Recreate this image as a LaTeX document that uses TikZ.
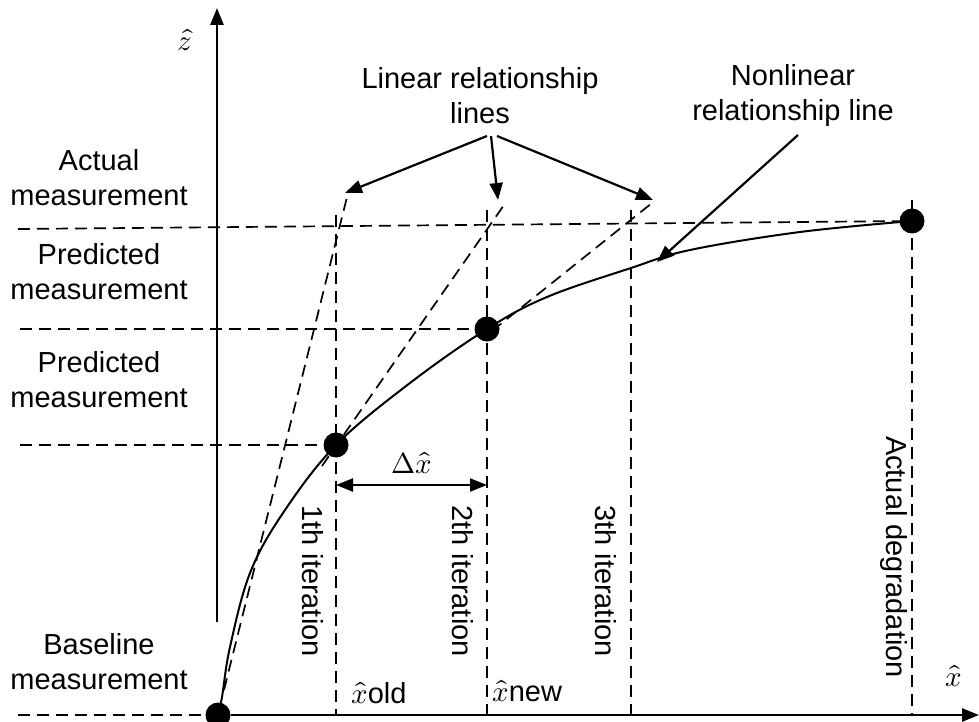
\documentclass[tikz,border=0pt]{standalone}
\usepackage{fontspec}
\usepackage{unicode-math}
\setmainfont{Liberation Sans}
\setmathfont{Latin Modern Math}
\usetikzlibrary{arrows.meta}
\begin{document}
\begin{tikzpicture}[x=1pt,y=-1pt,
  axis/.style={line width=2.6pt},
  tipped/.style={-{Triangle[length=17pt,width=13pt]}},
  guide/.style={line width=1.7pt, dash pattern=on 12pt off 7pt},
  curve/.style={line width=2pt},
  pointer/.style={line width=2.2pt, -{Triangle[length=17pt,width=13pt]}},
  dot/.style={circle, fill=black, inner sep=0pt, minimum size=25pt},
  lbl/.style={font=\fontsize{29}{35}\selectfont, align=center, inner sep=0pt},
]
\useasboundingbox (0,0) rectangle (979,722);

% operating points on the curve
\node[dot] (o)  at (218,715) {};
\node[dot] (p1) at (336,445) {};
\node[dot] (p2) at (487,329) {};
\node[dot] (p3) at (912,221) {};

% axes
\coordinate (yb) at (217,622);
\coordinate (yt) at (217,8);
\coordinate (xe) at (979,715);
\draw[axis, tipped] (yb) -- (yt);
\draw[axis, tipped] (o) -- (xe);
\node[lbl] (zl) at (185,40) {$\hat{z}$};
\node[lbl] (xl) at (954,676) {$\hat{x}$};

% horizontal guides
\coordinate (h0) at (18,715);
\coordinate (h1) at (20,445);
\coordinate (h2) at (20,329);
\coordinate (h3) at (18,229);
\draw[guide] (h0) -- (o);
\draw[guide] (h1) -- (p1);
\draw[guide] (h2) -- (p2);
\draw[guide] (h3) -- (p3.center);

% vertical guides
\coordinate (v1t) at (336,215); \coordinate (v1b) at (336,715);
\coordinate (v2t) at (487,210); \coordinate (v2b) at (487,715);
\coordinate (v3t) at (631,210); \coordinate (v3b) at (631,715);
\coordinate (v4t) at (912,200); \coordinate (v4b) at (912,715);
\draw[guide] (v1t) -- (v1b);
\draw[guide] (v2t) -- (v2b);
\draw[guide] (v3t) -- (v3b);
\draw[guide] (v4t) -- (v4b);

% linearised relationships
\coordinate (l1a) at (224,690); \coordinate (l1b) at (347,197);
\coordinate (l2a) at (322,466); \coordinate (l2b) at (504,205);
\coordinate (l3a) at (492,331); \coordinate (l3b) at (652,203);
\draw[guide] (l1a) -- (l1b);
\draw[guide] (l2a) -- (l2b);
\draw[guide] (l3a) -- (l3b);

% nonlinear relationship
\draw[curve] plot[smooth, tension=0.6] coordinates {(o.center) (222,697) (230,647) (250,573) (283,513) (p1.center) (410,383) (p2.center) (547,297) (631,268) (690,250) (800,232) (p3.center)};

% step between iterations
\draw[line width=2.2pt, {Triangle[length=17pt,width=13pt]}-{Triangle[length=17pt,width=13pt]}] (v1t |- 0,485) -- (v2t |- 0,485);
\node[lbl] (dx) at (412,463) {$\Delta\hat{x}$};

% left-hand labels
\node[lbl] (am) at (99,178) {Actual\\measurement};
\node[lbl] (pm1) at (99,272) {Predicted\\measurement};
\node[lbl] (pm2) at (99,380) {Predicted\\measurement};
\node[lbl] (bm) at (99,662) {Baseline\\measurement};

% iteration labels
\node[lbl, rotate=-90] (it1) at (313,581) {1th iteration};
\node[lbl, rotate=-90] (it2) at (463,581) {2th iteration};
\node[lbl, rotate=-90] (it3) at (606,581) {3th iteration};
\node[lbl, rotate=-90] (ad)  at (894,557) {Actual degradation};
\node[lbl, anchor=west] (xo) at (351,693) {$\hat{x}$old};
\node[lbl, anchor=west] (xn) at (492,691) {$\hat{x}$new};

% callouts
\node[lbl] (lin) at (480,96) {Linear relationship\\lines};
\node[lbl] (nl)  at (793,96) {Nonlinear\\relationship line};
\coordinate (s1) at (487,136);
\coordinate (s2) at (491,136);
\coordinate (s3) at (497,136);
\coordinate (s4) at (798,135);
\coordinate (e1) at (345,193);
\coordinate (e2) at (498,200);
\coordinate (e3) at (653,200);
\coordinate (e4) at (657,262);
\draw[pointer] (s1) -- (e1);
\draw[pointer] (s2) -- (e2);
\draw[pointer] (s3) -- (e3);
\draw[pointer] (s4) -- (e4);
\end{tikzpicture}
\end{document}
